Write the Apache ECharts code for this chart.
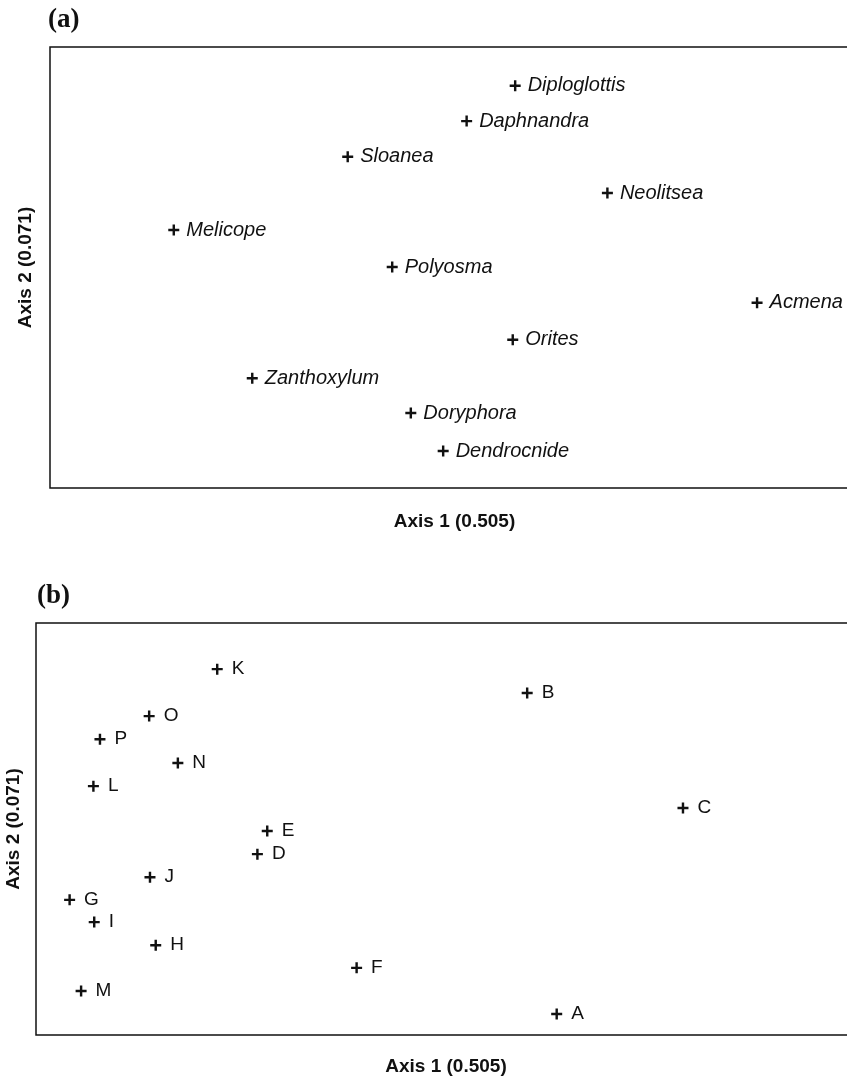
<!DOCTYPE html>
<html>
<head>
<meta charset="utf-8">
<script src="https://cdn.jsdelivr.net/npm/echarts@6/dist/echarts.min.js"></script>
<style>
  html, body { margin: 0; padding: 0; background: #fff; }
  #chart { width: 847px; height: 1077px; }
</style>
</head>
<body>
<div id="chart"></div>
<script>
// (a) genus scores on the first two ordination axes
const genera = ['Diploglottis', 'Daphnandra', 'Sloanea', 'Neolitsea', 'Melicope', 'Polyosma',
                'Acmena', 'Orites', 'Zanthoxylum', 'Doryphora', 'Dendrocnide'];
const generaAxis1 = [57.5, 51.5, 36.8, 68.9, 15.3, 42.3, 87.4, 57.2, 25.0, 44.6, 48.6];
const generaAxis2 = [91.2, 83.2, 75.1, 66.9, 58.5, 50.1, 42.0, 33.6, 24.9, 17.0, 8.4];

// (b) site scores on the same axes
const sites = ['K', 'B', 'O', 'P', 'N', 'L', 'C', 'E', 'D', 'J', 'G', 'I', 'H', 'F', 'M', 'A'];
const sitesAxis1 = [22.1, 59.9, 13.8, 7.8, 17.3, 7.0, 78.9, 28.2, 27.0, 13.9, 4.1, 7.1, 14.6, 39.1, 5.5, 63.5];
const sitesAxis2 = [88.8, 83.0, 77.4, 71.8, 66.0, 60.4, 55.1, 49.5, 43.9, 38.3, 32.8, 27.4, 21.8, 16.3, 10.7, 5.1];

const axis1Name = 'Axis 1 (0.505)';
const axis2Name = 'Axis 2 (0.071)';
const panelTitles = ['(a)', '(b)'];

const PLUS = 'path://M3.9,0H6.1V3.9H10V6.1H6.1V10H3.9V6.1H0V3.9H3.9Z';
const ink = '#111';

function points(names, xs, ys) {
  return names.map((n, i) => ({ name: n, value: [xs[i], ys[i]] }));
}

const axisNameStyle = {
  fontFamily: 'Liberation Sans, Arial, sans-serif',
  fontWeight: 'bold',
  fontSize: 19,
  color: ink
};

function xAxisDef(gridIndex, gap) {
  return {
    type: 'value', gridIndex, min: 0, max: 100,
    name: axis1Name, nameLocation: 'middle', nameGap: gap,
    nameTextStyle: axisNameStyle,
    axisLine: { show: false }, axisTick: { show: false },
    axisLabel: { show: false }, splitLine: { show: false }
  };
}
function yAxisDef(gridIndex, gap) {
  return {
    type: 'value', gridIndex, min: 0, max: 100,
    name: axis2Name, nameLocation: 'middle', nameGap: gap,
    nameTextStyle: axisNameStyle,
    axisLine: { show: false }, axisTick: { show: false },
    axisLabel: { show: false }, splitLine: { show: false }
  };
}

const chart = echarts.init(document.getElementById('chart'), null, { renderer: 'canvas' });

chart.setOption({
  backgroundColor: '#fff',
  animation: false,
  grid: [
    { left: 50, top: 47, width: 809, height: 441, containLabel: false, outerBoundsMode: 'none',
      show: true, borderColor: ink, borderWidth: 1.5 },
    { left: 36, top: 623, width: 820, height: 412, containLabel: false, outerBoundsMode: 'none',
      show: true, borderColor: ink, borderWidth: 1.5 }
  ],
  xAxis: [xAxisDef(0, 24), xAxisDef(1, 22)],
  yAxis: [yAxisDef(0, 15), yAxisDef(1, 13)],
  graphic: [
    { type: 'text', left: 48, top: 7,
      style: { text: panelTitles[0], font: 'bold 27px "Liberation Serif", "Times New Roman", serif', fill: ink } },
    { type: 'text', left: 37, top: 583,
      style: { text: panelTitles[1], font: 'bold 27px "Liberation Serif", "Times New Roman", serif', fill: ink } }
  ],
  series: [
    {
      type: 'scatter', xAxisIndex: 0, yAxisIndex: 0,
      symbol: PLUS, symbolSize: 11,
      itemStyle: { color: ink, opacity: 1 },
      label: {
        show: true, position: 'right', distance: 7,
        formatter: '{b}',
        fontFamily: 'Liberation Sans, Arial, sans-serif',
        fontStyle: 'italic', fontSize: 20, color: ink
      },
      data: points(genera, generaAxis1, generaAxis2)
    },
    {
      type: 'scatter', xAxisIndex: 1, yAxisIndex: 1,
      symbol: PLUS, symbolSize: 11,
      itemStyle: { color: ink, opacity: 1 },
      label: {
        show: true, position: 'right', distance: 9,
        formatter: '{b}',
        fontFamily: 'Liberation Sans, Arial, sans-serif',
        fontSize: 19, color: ink
      },
      data: points(sites, sitesAxis1, sitesAxis2)
    }
  ]
});
</script>
</body>
</html>
